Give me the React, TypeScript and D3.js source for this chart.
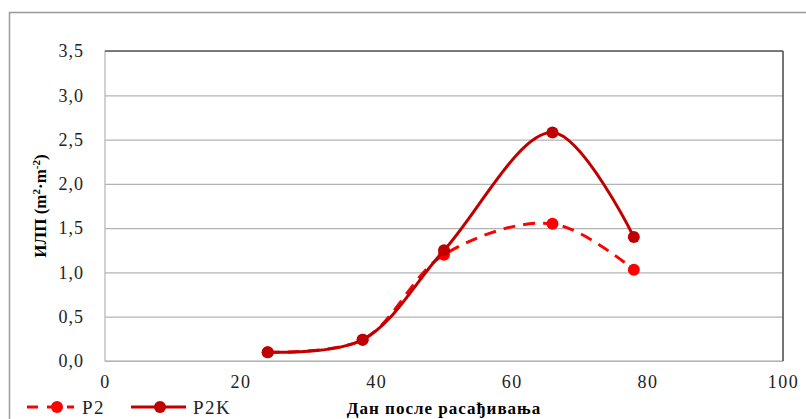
import * as d3 from "d3";
import {useEffect, useRef} from "react";

const days = [24, 38, 50, 66, 78];
const p2 = [0.1, 0.24, 1.2, 1.55, 1.03];
const p2k = [0.1, 0.24, 1.25, 2.58, 1.4];
const yTicks = [0, 0.5, 1.0, 1.5, 2.0, 2.5, 3.0, 3.5];
const xTicks = [0, 20, 40, 60, 80, 100];
const seriesNames = ["P2", "P2K"];

const W = 806;
const H = 419;
const FONT = "'Liberation Serif', 'Times New Roman', serif";

const App = () => {
    const svgRef = useRef(null);

    useEffect(() => {
        if (!svgRef.current) return;
        const root = d3.select(svgRef.current);
        root.selectAll("*").remove();

        // outer chart frame
        root.append("rect")
            .attr("x", 9.5).attr("y", 12.5)
            .attr("width", W + 10).attr("height", H + 10)
            .attr("fill", "white").attr("stroke", "#9a9a9a").attr("stroke-width", 1.5);

        const margin = {top: 51, left: 105, right: W - 783, bottom: H - 361};
        const innerW = W - margin.left - margin.right;
        const innerH = H - margin.top - margin.bottom;

        const x = d3.scaleLinear().domain([0, 100]).range([0, innerW]);
        const y = d3.scaleLinear().domain([0, 3.5]).range([innerH, 0]);

        const g = root.append("g").attr("transform", `translate(${margin.left},${margin.top})`);

        // horizontal grid
        g.append("g")
            .call(d3.axisLeft(y).tickValues(yTicks).tickSize(-innerW).tickFormat(() => ""))
            .call(s => s.select(".domain").remove())
            .call(s => s.selectAll("line").attr("stroke", "#b3b3b3").attr("stroke-width", 1.2));

        // plot frame
        g.append("rect")
            .attr("x", 0).attr("y", 0).attr("width", innerW).attr("height", innerH)
            .attr("fill", "none").attr("stroke", "#b3b3b3").attr("stroke-width", 1.2);
        g.append("line").attr("x1", 0).attr("x2", innerW).attr("y1", 0).attr("y2", 0)
            .attr("stroke", "#333").attr("stroke-width", 1.2);
        g.append("line").attr("x1", innerW).attr("x2", innerW).attr("y1", 0).attr("y2", innerH)
            .attr("stroke", "#555").attr("stroke-width", 1.5);

        // y tick labels
        g.append("g")
            .call(d3.axisLeft(y).tickValues(yTicks).tickSize(0).tickPadding(21)
                .tickFormat(d => d3.format(".1f")(d as number).replace(".", ",")))
            .call(s => s.select(".domain").remove())
            .call(s => s.selectAll("text").style("font-family", FONT).style("font-size", "18px")
                .style("letter-spacing", "1px").attr("fill", "#222"));

        // x tick labels
        g.append("g")
            .attr("transform", `translate(0,${innerH})`)
            .call(d3.axisBottom(x).tickValues(xTicks).tickSize(0).tickPadding(14).tickFormat(d3.format("d")))
            .call(s => s.select(".domain").remove())
            .call(s => s.selectAll("text").style("font-family", FONT).style("font-size", "18px")
                .style("letter-spacing", "1.5px").attr("fill", "#222"));

        const line = d3.line<[number, number]>()
            .x(d => x(d[0]))
            .y(d => y(d[1]))
            .curve(d3.curveCatmullRom.alpha(0.5));

        const series = [
            {name: seriesNames[0], values: p2, color: "#ff0000", dash: "12,8"},
            {name: seriesNames[1], values: p2k, color: "#c00000", dash: null},
        ];

        series.forEach(s => {
            const pts = days.map((d, i) => [d, s.values[i]] as [number, number]);
            g.append("path")
                .datum(pts)
                .attr("fill", "none")
                .attr("stroke", s.color)
                .attr("stroke-width", 3)
                .attr("stroke-dasharray", s.dash)
                .attr("d", line);
            g.selectAll(null)
                .data(pts)
                .enter()
                .append("circle")
                .attr("cx", d => x(d[0]))
                .attr("cy", d => y(d[1]))
                .attr("r", 6)
                .attr("fill", s.color);
        });

        // axis titles
        root.append("text")
            .attr("x", 444).attr("y", 414)
            .attr("text-anchor", "middle")
            .style("font-family", FONT).style("font-size", "17px").style("font-weight", "bold")
            .style("letter-spacing", "1px")
            .text("Дан после расађивања");

        const yt = root.append("text")
            .attr("transform", "translate(46,206) rotate(-90)")
            .attr("text-anchor", "middle")
            .style("font-family", FONT).style("font-size", "17px").style("font-weight", "bold");
        yt.append("tspan").text("ИЛП (m");
        yt.append("tspan").style("font-size", "11px").attr("dy", -6).text("2");
        yt.append("tspan").attr("dy", 6).text("·m");
        yt.append("tspan").style("font-size", "11px").attr("dy", -6).text("-2");
        yt.append("tspan").attr("dy", 6).text(")");

        // legend
        const legend = [
            {x0: 27, x1: 74, mx: 57, tx: 82, ...series[0]},
            {x0: 131, x1: 186, mx: 160, tx: 193, ...series[1]},
        ];
        legend.forEach(l => {
            root.append("line")
                .attr("x1", l.x0).attr("x2", l.x1).attr("y1", 407).attr("y2", 407)
                .attr("stroke", l.color).attr("stroke-width", 3)
                .attr("stroke-dasharray", l.dash ? "11,9" : null);
            root.append("circle").attr("cx", l.mx).attr("cy", 407).attr("r", 6).attr("fill", l.color);
            root.append("text")
                .attr("x", l.tx).attr("y", 414)
                .style("font-family", FONT).style("font-size", "19px")
                .style("letter-spacing", "1.5px").attr("fill", "#222")
                .text(l.name);
        });
    }, []);

    return <svg ref={svgRef} width={W} height={H}
                style={{position: "absolute", left: 0, top: 0, background: "white"}}/>;
};

export default App;
